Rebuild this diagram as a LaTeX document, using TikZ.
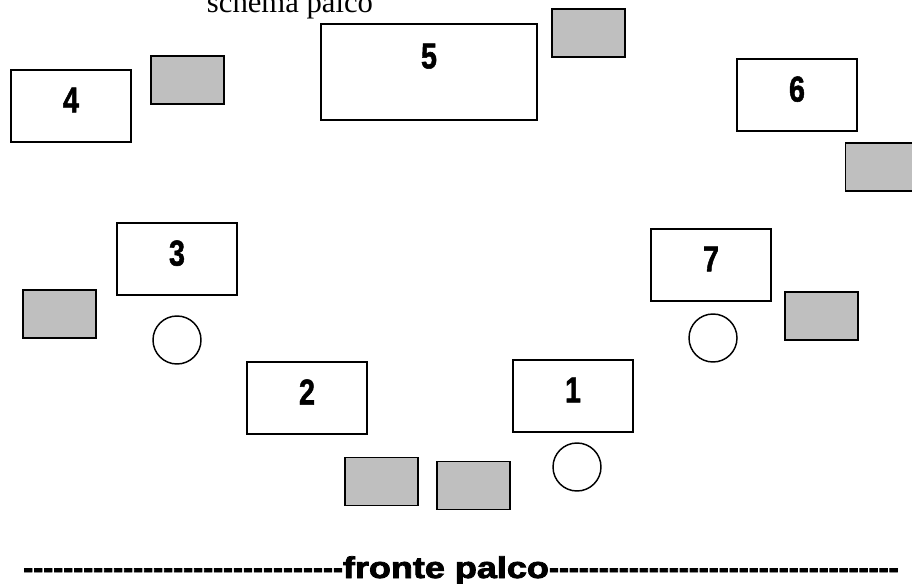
\documentclass[tikz,border=0pt]{standalone}
\usepackage{fontspec}
\setmainfont{Liberation Serif}
\newfontfamily\numfont[FakeBold=1.5]{Liberation Sans Bold}
\newfontfamily\frontfont[FakeBold=2.5]{Liberation Sans Bold}
\usepackage{tikz}
\newcommand\dashrun[1]{\foreach \k in {1,...,#1}{-}}

\begin{document}
\begin{tikzpicture}[x=0.75pt, y=-0.75pt, inner sep=3pt]
            \useasboundingbox (0,0) rectangle (912,584);

            \tikzstyle{myBox}=[rectangle,draw,line width=1.5pt,minimum width=90pt,minimum height=54pt,text depth=9pt,font=\numfont\fontsize{27}{27}\selectfont];
            \tikzstyle{myGray}=[rectangle,draw,fill=lightgray,line width=1.1pt,minimum width=54.75pt,minimum height=36pt];
            \tikzstyle{myCir}=[circle,draw,line width=1.1pt,minimum size=36pt];

            \node[font=\fontsize{23}{23}\selectfont, anchor=base] (titolo) at (290,12.5) {schema palco};

            \node[myBox] (4) at (71,106) {\scalebox{0.8}[1]{4}};
            \node[myBox, minimum width=162pt, minimum height=72pt, text depth=24pt] (5) at (429,72) {\scalebox{0.8}[1]{5}};
            \node[myBox] (6) at (797,95) {\scalebox{0.8}[1]{6}};
            \node[myBox] (3) at (177,259) {\scalebox{0.8}[1]{3}};
            \node[myBox] (7) at (711,265) {\scalebox{0.8}[1]{7}};
            \node[myBox] (2) at (307,398) {\scalebox{0.8}[1]{2}};
            \node[myBox] (1) at (573,396) {\scalebox{0.8}[1]{1}};

            \node[myGray] (g4) at (187.5,80) {};
            \node[myGray] (g5) at (588.5,33) {};
            \node[myGray] (g6) at (882,167) {};
            \node[myGray] (g3) at (59.5,314) {};
            \node[myGray] (g7) at (821.5,316) {};
            \node[myGray] (g2) at (381.5,481.5) {};
            \node[myGray] (g1) at (473.5,485.5) {};

            \node[myCir] (c3) at (177,340) {};
            \node[myCir] (c7) at (713,338) {};
            \node[myCir] (c1) at (577,467) {};

            \node[anchor=base west, inner sep=0pt, font=\frontfont\fontsize{22.5}{22.5}\selectfont] (fronte) at (23,578) {\dashrun{32}\scalebox{1.2}[1]{fronte palco}\dashrun{35}};
\end{tikzpicture}
\end{document}
